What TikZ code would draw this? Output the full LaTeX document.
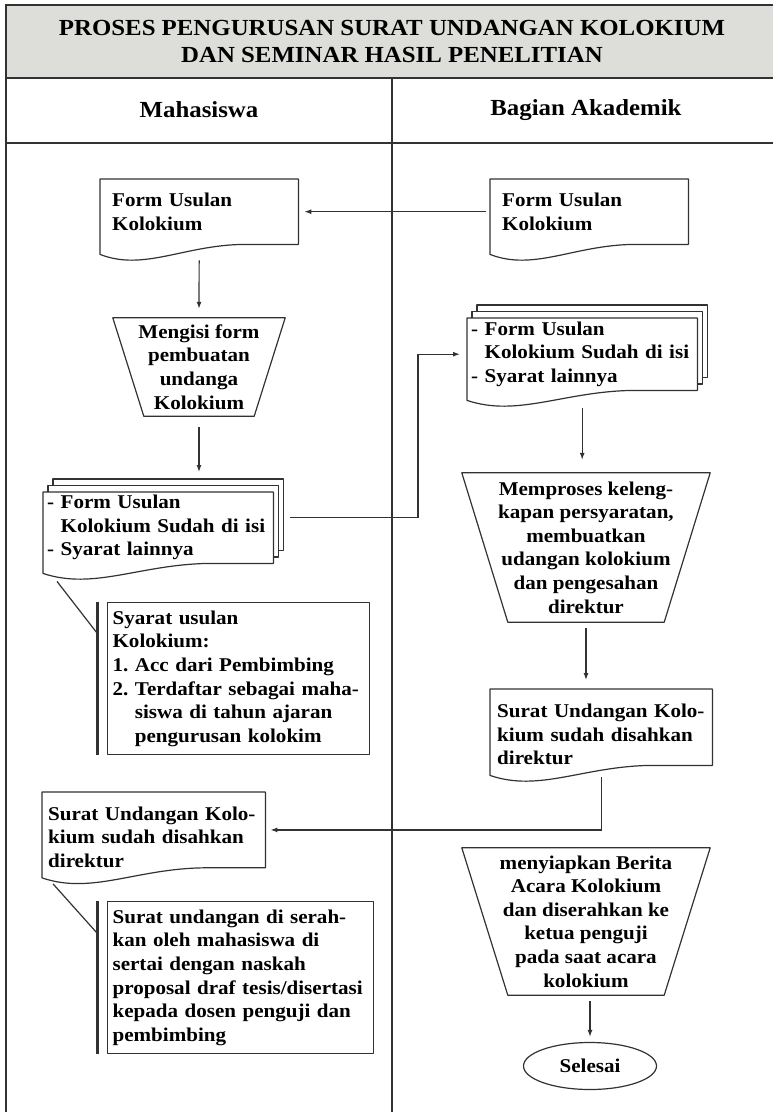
\documentclass[tikz,border=0pt]{standalone}
\usepackage{fontspec}
\setmainfont{Liberation Serif}[FakeStretch=1.08]
\usetikzlibrary{arrows.meta,calc,backgrounds,shapes.geometric}

\definecolor{bandgray}{RGB}{221,221,218}
\definecolor{ink}{RGB}{50,50,50}

\tikzset{
  outline/.style={draw=ink, line width=1.2pt, line join=round},
  frame/.style={draw=ink, line width=2pt},
  conn/.style={draw=ink, line width=1.2pt},
  arr/.style={conn, -{Latex[length=7pt,width=5pt]}},
  bracket/.style={draw=ink, line width=3pt},
  body/.style={font=\bfseries\frenchspacing\fontsize{19.5}{23.6}\selectfont, inner ysep=0pt},
  docbox/.style={body, anchor=north west, align=left, inner xsep=#1},
  docbox/.default=12pt,
  opbox/.style={body, align=center, inner sep=0pt},
  notebox/.style={body, anchor=north west, align=left, inner xsep=5pt, outline},
  headtext/.style={font=\bfseries\fontsize{23}{27}\selectfont, align=center},
}

% document symbol: flat top, wavy lower edge
\newcommand\docoutline[1]{%
  \draw[outline, fill=white] (#1.north west) -- (#1.north east) -- (#1.south east)
    -- ($(#1.south west)!0.72!(#1.south east)$)
    .. controls ($(#1.south west)!0.42!(#1.south east)+(0,-1pt)$)
       and ($(#1.south west)!0.22!(#1.south east)+(0,-27pt)$)
    .. ([yshift=-10pt]#1.south west) -- cycle;}
% stack of documents: two sheets behind the front one
\newcommand\stackoutline[1]{%
  \draw[outline, fill=white] ([shift={(10pt,13pt)}]#1.north west) rectangle ([shift={(10pt,13pt)}]#1.south east);
  \draw[outline, fill=white] ([shift={(5pt,6.5pt)}]#1.north west) rectangle ([shift={(5pt,6.5pt)}]#1.south east);
  \docoutline{#1}}
% manual operation: trapezium, wide side on top
\newcommand\manualop[2]{%
  \draw[outline] (#1.north west) -- (#1.north east) -- ([xshift=-#2]#1.south east)
    -- ([xshift=#2]#1.south west) -- cycle;}

\begin{document}
\begin{tikzpicture}[x=1pt,y=-1pt]
\useasboundingbox (0,0) rectangle (773,1112);

% ---------- swimlane frame ----------
\fill[bandgray] (6,5) rectangle (773,78);
\draw[frame, line width=1.6pt] (6,5) -- (773,5);
\draw[frame] (6,78) -- (773,78);
\draw[frame] (6,143) -- (773,143);
\draw[frame, line width=2.4pt] (6,4) -- (6,1112);
\draw[conn, line width=1.5pt] (392,78) -- (392,1112);

\node[headtext] (title) at (392,41.5) {PROSES PENGURUSAN SURAT UNDANGAN KOLOKIUM\\DAN SEMINAR HASIL PENELITIAN};
\node[headtext] (lane1) at (199,110) {Mahasiswa};
\node[headtext] (lane2) at (586,110) {Bagian Akademik};

% ---------- Mahasiswa lane ----------
\node[docbox, text width=174pt, minimum height=65pt] (fu1) at (100,179)
  {Form Usulan\\Kolokium};
\node[opbox, minimum width=172pt, minimum height=98pt] (mo1) at (199,367)
  {Mengisi form\\pembuatan\\undanga\\Kolokium};
\node[docbox=4pt, text width=222pt, minimum height=71pt] (md1) at (43,492)
  {- Form Usulan\\\phantom{- }Kolokium Sudah di isi\\- Syarat lainnya};
\node[notebox, text width=252pt, minimum height=152pt] (an1) at (107,602)
  {Syarat usulan\\Kolokium:\\1. Acc dari Pembimbing\\2. Terdaftar sebagai maha-\\\phantom{2. }siswa di tahun ajaran\\\phantom{2. }pengurusan kolokim};
\node[docbox=6pt, text width=211pt, minimum height=75pt] (su1) at (42,792)
  {\rule{0pt}{28pt}Surat Undangan Kolo-\\kium sudah disahkan\\direktur};
\node[notebox, text width=256pt, minimum height=152pt] (an2) at (107,901)
  {Surat undangan di serah-\\kan oleh mahasiswa di\\sertai dengan naskah\\proposal draf tesis/disertasi\\kepada dosen penguji dan\\pembimbing};

% ---------- Bagian Akademik lane ----------
\node[docbox, text width=174pt, minimum height=65pt] (fu2) at (490,179)
  {Form Usulan\\Kolokium};
\node[docbox=4pt, text width=222pt, minimum height=72pt] (md2) at (467,318)
  {- Form Usulan\\\phantom{- }Kolokium Sudah di isi\\- Syarat lainnya};
\node[opbox, minimum width=248pt, minimum height=149pt] (mo2) at (586,547.5)
  {Memproses keleng-\\kapan persyaratan,\\membuatkan\\udangan kolokium\\dan pengesahan\\direktur};
\node[docbox=7pt, text width=208pt, minimum height=76pt] (su2) at (490,689)
  {\rule{0pt}{28pt}Surat Undangan Kolo-\\kium sudah disahkan\\direktur};
\node[opbox, minimum width=248pt, minimum height=147pt] (mo3) at (586,921.5)
  {menyiapkan Berita\\Acara Kolokium\\dan diserahkan ke\\ketua penguji\\pada saat acara\\kolokium};
\node[body, ellipse, outline, minimum width=133pt, minimum height=47pt, inner sep=0pt] (end) at (590,1066) {Selesai};

% ---------- symbol outlines ----------
\begin{pgfonlayer}{background}
  \docoutline{fu1}
  \docoutline{fu2}
  \manualop{mo1}{31pt}
  \stackoutline{md1}
  \stackoutline{md2}
  \manualop{mo2}{46pt}
  \docoutline{su2}
  \docoutline{su1}
  \manualop{mo3}{46pt}
\end{pgfonlayer}

% annotation brackets and their leaders
\draw[bracket] ([xshift=-10pt]an1.north west) -- ([xshift=-10pt]an1.south west);
\draw[bracket] ([xshift=-10pt]an2.north west) -- ([xshift=-10pt]an2.south west);
\draw[conn] ([shift={(14pt,-18pt)}]md1.south west) -- ([shift={(-10pt,-31pt)}]an1.north west);
\draw[conn] ([shift={(11pt,-16pt)}]su1.south west) -- ([shift={(-10pt,-32pt)}]an2.north west);

% ---------- flow ----------
\coordinate (j1) at (418,440);
\draw[arr, shorten <=4pt, shorten >=6pt] (fu2.west) -- (fu1.east);
\draw[arr, shorten <=16pt, shorten >=9pt] (fu1.south) -- (mo1.north);
\draw[arr, shorten <=11pt, shorten >=20pt] (mo1.south) -- (mo1.south |- md1.north);
\draw[arr, shorten <=17pt, shorten >=7pt] ([yshift=10pt]md1.east) -| (j1) |- (md2.west);
\draw[arr, shorten <=18pt, shorten >=13pt] (md2.south) -- (md2.south |- mo2.north);
\draw[arr, shorten <=6pt, shorten >=9pt] (mo2.south) -- (mo2.south |- su2.north);
\draw[arr, shorten <=12pt, shorten >=5pt] (su2.south) |- (su1.east);
\draw[arr, shorten <=6pt, shorten >=5pt] (mo3.south -| end.north) -- (end.north);
\end{tikzpicture}
\end{document}
